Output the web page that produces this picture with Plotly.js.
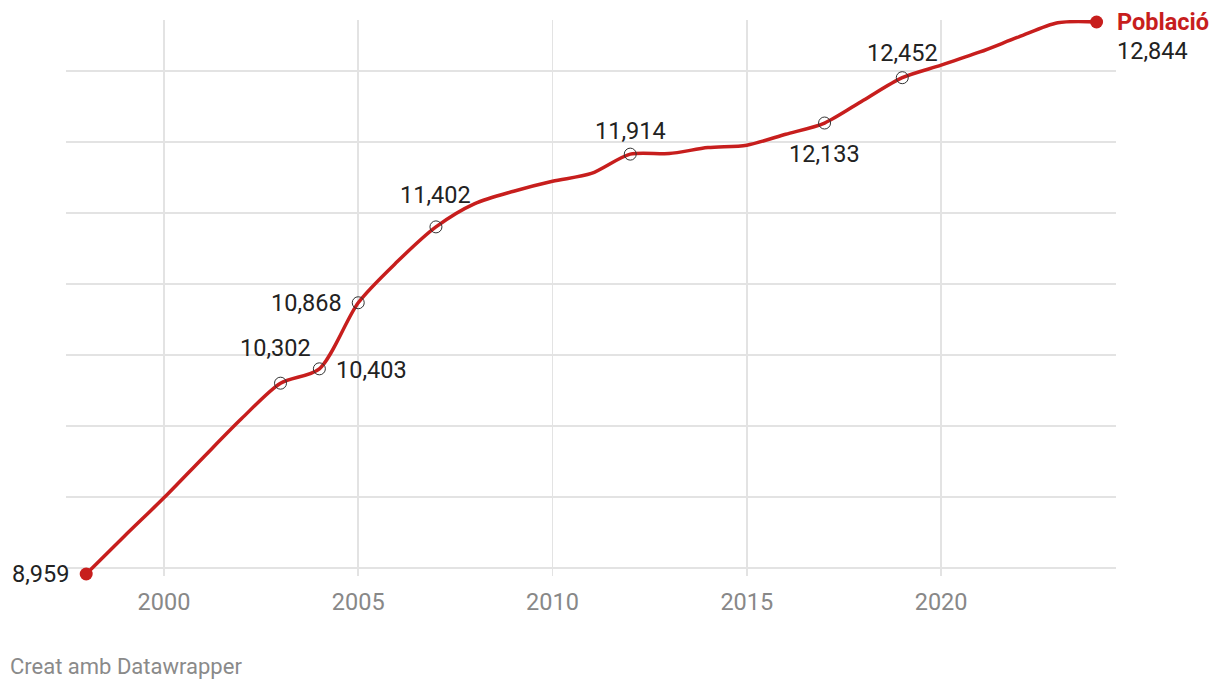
<!DOCTYPE html>
<html>
<head>
<meta charset="utf-8">
<script src="https://cdn.plot.ly/plotly-3.0.1.min.js"></script>
<style>
html,body{margin:0;padding:0;background:#fff;}
#chart{width:1220px;height:692px;}
</style>
</head>
<body>
<div id="chart"></div>
<script>
// Data
const years = [1998,1999,2000,2001,2002,2003,2004,2005,2006,2007,2008,2009,2010,2011,2012,2013,2014,2015,2016,2017,2018,2019,2020,2021,2022,2023,2024];
const poblacio = [8959,9230,9495,9776,10053,10302,10403,10868,11156,11402,11566,11653,11723,11778,11914,11918,11960,11977,12054,12133,12293,12452,12540,12633,12739,12838,12844];
const labelledYears = [2003,2004,2005,2007,2012,2017,2019];
const endYears = [1998,2024];
const seriesName = "Població";
const xTicks = [2000,2005,2010,2015,2020];
const yGrid = [9000,9500,10000,10500,11000,11500,12000,12500];
const credit = "Creat amb Datawrapper";

const valueOf = y => poblacio[years.indexOf(y)];
const fmt = v => v.toLocaleString('en-US');

const RED = '#c71e1d';
const FONT = 'Roboto, "Noto Sans", sans-serif';

const traces = [
  {
    x: years, y: poblacio, type: 'scatter', mode: 'lines',
    line: {color: RED, width: 3.5, shape: 'spline', smoothing: 0.8},
    hoverinfo: 'skip'
  },
  {
    x: labelledYears, y: labelledYears.map(valueOf), type: 'scatter', mode: 'markers',
    marker: {symbol: 'circle-open', size: 12, color: '#333', line: {width: 1, color: '#333'}},
    cliponaxis: false, hoverinfo: 'skip'
  },
  {
    x: endYears, y: endYears.map(valueOf), type: 'scatter', mode: 'markers',
    marker: {symbol: 'circle', size: 13, color: RED},
    cliponaxis: false, hoverinfo: 'skip'
  }
];

// label placement (style only): [year, xanchor, xshift, yshift]
const placement = [
  [1998, 'right', -15, 0],
  [2003, 'center', -5, 35],
  [2004, 'left', 15, -1],
  [2005, 'right', -14, 0],
  [2007, 'center', 0, 32],
  [2012, 'center', 0, 23],
  [2017, 'center', 0, -31],
  [2019, 'center', 0, 25],
  [2024, 'left', 18, -29]
];

const annotations = placement.map(([yr, xa, xs, ys]) => ({
  x: yr, y: valueOf(yr), xref: 'x', yref: 'y',
  text: fmt(valueOf(yr)), showarrow: false,
  xanchor: xa, yanchor: 'middle', xshift: xs, yshift: ys,
  font: {family: FONT, size: 23.5, color: '#222'}
}));

annotations.push({
  x: endYears[1], y: valueOf(endYears[1]), xref: 'x', yref: 'y',
  text: '<b>' + seriesName + '</b>', showarrow: false,
  xanchor: 'left', yanchor: 'middle', xshift: 18, yshift: 0,
  font: {family: FONT, size: 23.5, color: RED}
});

annotations.push({
  x: 0, y: 0, xref: 'paper', yref: 'paper',
  text: credit, showarrow: false,
  xanchor: 'left', yanchor: 'middle', xshift: -58, yshift: -90,
  font: {family: FONT, size: 22, color: '#8a8a8a'}
});

const layout = {
  width: 1220, height: 692,
  margin: {l: 66, r: 104, t: 20, b: 116},
  paper_bgcolor: '#fff', plot_bgcolor: '#fff',
  showlegend: false,
  xaxis: {
    range: [1997.48, 2024.5],
    tickvals: xTicks, ticktext: xTicks.map(String),
    showgrid: true, gridcolor: '#e3e3e3', gridwidth: 1.5,
    zeroline: false, showline: false, ticks: '',
    ticklabelstandoff: 9,
    tickfont: {family: FONT, size: 23.5, color: '#888'}
  },
  yaxis: {
    range: [8945, 12858],
    tickvals: yGrid, showticklabels: false,
    showgrid: true, gridcolor: '#e3e3e3', gridwidth: 1.5,
    zeroline: false, showline: false, ticks: ''
  },
  annotations: annotations
};

Plotly.newPlot('chart', traces, layout, {displayModeBar: false, staticPlot: true});
</script>
</body>
</html>
